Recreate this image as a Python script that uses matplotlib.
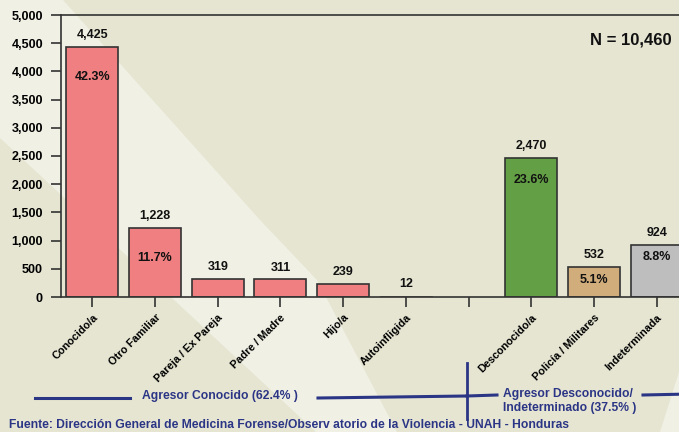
import matplotlib
matplotlib.use("Agg")
import matplotlib.pyplot as plt
from matplotlib.patches import Polygon
from matplotlib.lines import Line2D

plt.rcParams['font.family'] = ['Liberation Sans', 'DejaVu Sans']
plt.rcParams['font.weight'] = 'bold'

categories = ["Conocido/a", "Otro Familiar", "Pareja / Ex Pareja", "Padre / Madre",
              "Hijo/a", "Autoinfligida", "", "Desconocido/a", "Policía / Militares",
              "Indeterminada"]
values = [4425, 1228, 319, 311, 239, 12, None, 2470, 532, 924]
percents = ["42.3%", "11.7%", None, None, None, None, None, "23.6%", "5.1%", "8.8%"]
pct_offsets = [-21, -22, 0, 0, 0, 0, 0, -16, -9.5, -8.5]
colors = ["#EF7F80"] * 6 + [None, "#63A045", "#D2AD7C", "#BEBEBE"]
yticks = list(range(0, 5001, 500))
total_label = "N = 10,460"
group_known = "Agresor Conocido (62.4% )"
group_unknown = "Agresor Desconocido/\nIndeterminado (37.5% )"
source = "Fuente: Dirección General de Medicina Forense/Observ atorio de la Violencia - UNAH - Honduras"

W, H = 679, 432
fig = plt.figure(figsize=(W / 100, H / 100), dpi=100)
bg = "#E6E5D2"
light = "#F0F0E4"
fig.patch.set_facecolor(bg)

def px(x, y):
    return (x / W, 1 - y / H)

band1 = [px(0, 0), px(63, 0), px(260, 220), px(317, 280), px(397, 432), px(316, 432), px(0, 138)]
fig.patches.append(Polygon(band1, closed=True, transform=fig.transFigure,
                           facecolor=light, edgecolor='none', zorder=-10))
band2 = [px(679, 372), px(679, 432), px(660, 432)]
fig.patches.append(Polygon(band2, closed=True, transform=fig.transFigure,
                           facecolor=light, edgecolor='none', zorder=-10))

left, right, top, bottom = 61, 688, 15, 297
ax = fig.add_axes([left / W, 1 - bottom / H, (right - left) / W, (bottom - top) / H])
ax.set_facecolor('none')

xs = list(range(len(categories)))
for x, v, c in zip(xs, values, colors):
    if v is None:
        continue
    ax.bar(x, v, width=0.83, color=c, edgecolor="#333333", linewidth=1.2 if v > 50 else 0.4,
           zorder=1)
    ax.annotate(f"{v:,}", (x, v), xytext=(0, 8.6), textcoords='offset points',
                ha='center', va='center', fontsize=9, fontweight='bold', color='#111111')

for x, v, p, off in zip(xs, values, percents, pct_offsets):
    if p is None:
        continue
    ax.annotate(p, (x, v), xytext=(0, off), textcoords='offset points',
                ha='center', va='center', fontsize=9, fontweight='bold', color='#111111')

ax.set_xlim(-0.5, len(categories) - 0.5)
ax.set_ylim(0, 5000)
ax.set_yticks(yticks)
ax.set_yticklabels([f"{t:,}" for t in yticks], fontsize=9, fontweight='bold')
ax.set_xticks(xs)
ax.set_xticklabels(categories, rotation=45, ha='right', va='top', rotation_mode='anchor',
                   fontsize=7.8, fontweight='bold')
ax.tick_params(axis='y', length=7, width=1.2, color='#333333', pad=6)
ax.tick_params(axis='x', length=7, width=1.2, color='#333333', pad=4)
for s in ['left', 'bottom', 'top']:
    ax.spines[s].set_color('#333333')
    ax.spines[s].set_linewidth(1.2)
    ax.spines[s].set_zorder(5)
ax.spines['right'].set_visible(False)

fig.text(*px(631, 40), total_label, ha='center', va='center', fontsize=12, fontweight='bold',
         color='#111111')

navy = "#2B3585"
def hline(x0, y0, x1, y1, lw=2.2):
    (a, b), (c, d) = px(x0, y0), px(x1, y1)
    fig.add_artist(Line2D([a, c], [b, d], transform=fig.transFigure, color=navy, lw=lw))

hline(35, 398, 130, 398)
hline(318, 398, 467, 396)
hline(467, 396, 497, 395)
hline(643, 395, 690, 394)
hline(467, 363, 467, 419, lw=2)
fig.text(*px(142, 396), group_known, ha='left', va='center', fontsize=8.7,
         fontweight='bold', color=navy)
fig.text(*px(503, 401), group_unknown, ha='left', va='center', fontsize=8.7,
         fontweight='bold', color=navy, linespacing=1.3)
fig.text(*px(9, 425), source, ha='left', va='center', fontsize=8.7,
         fontweight='bold', color=navy)

fig.savefig("out.png", dpi=100, facecolor=fig.get_facecolor())
